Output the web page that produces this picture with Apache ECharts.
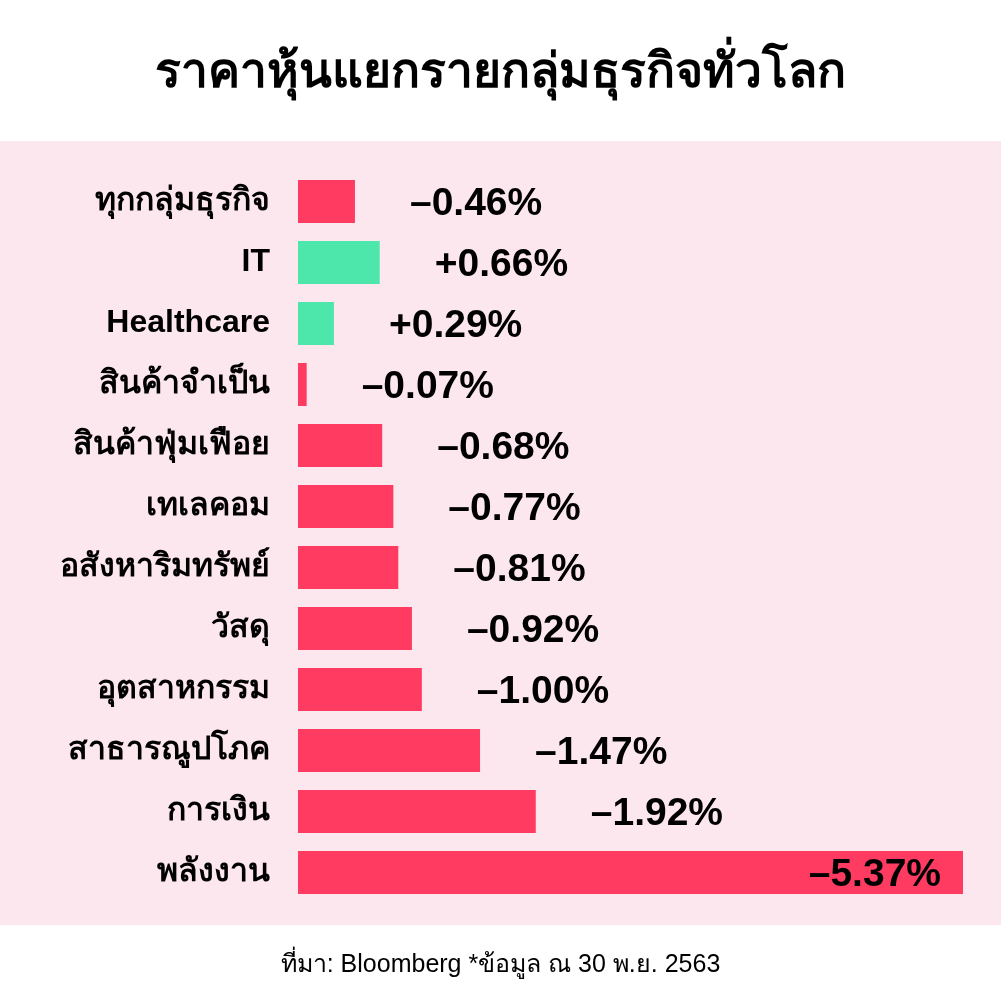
<!DOCTYPE html>
<html>
  <head>
    <meta charset="utf-8">
    <script src="https://cdn.jsdelivr.net/npm/echarts@6/dist/echarts.min.js"></script>
    <style>
      html, body { margin: 0; padding: 0; background: #fff; }
      #chart { width: 1001px; height: 1001px; }
    </style>
  </head>
  <body>
    <div id="chart"></div>
    <script>
      var categories = ['ทุกกลุ่มธุรกิจ', 'IT', 'Healthcare', 'สินค้าจำเป็น', 'สินค้าฟุ่มเฟือย', 'เทเลคอม',
        'อสังหาริมทรัพย์', 'วัสดุ', 'อุตสาหกรรม', 'สาธารณูปโภค', 'การเงิน', 'พลังงาน'];
      var changes = [-0.46, 0.66, 0.29, -0.07, -0.68, -0.77, -0.81, -0.92, -1.00, -1.47, -1.92, -5.37];
      var titleText = 'ราคาหุ้นแยกรายกลุ่มธุรกิจทั่วโลก';
      var sourceText = 'ที่มา: Bloomberg *ข้อมูล ณ 30 พ.ย. 2563';

      var RED = '#ff3b62';
      var GREEN = '#4de6ab';
      var FONT = '"Liberation Sans", "Noto Sans", sans-serif';

      var maxAbs = Math.max.apply(null, changes.map(Math.abs));

      function fmt(v) {
        return (v > 0 ? '+' : '–') + Math.abs(v).toFixed(2) + '%';
      }

      var barData = changes.map(function (v) {
        var item = {
          value: Math.abs(v),
          itemStyle: { color: v >= 0 ? GREEN : RED }
        };
        // the longest bar carries its label inside
        if (Math.abs(v) === maxAbs) {
          item.label = { position: 'insideRight', distance: 22 };
        }
        return item;
      });

      var chart = echarts.init(document.getElementById('chart'), null, { renderer: 'canvas' });
      chart.setOption({
        animation: false,
        backgroundColor: '#ffffff',
        graphic: [
          {
            type: 'rect',
            z: -10,
            silent: true,
            shape: { x: 0, y: 141, width: 1001, height: 784 },
            style: { fill: '#fde7ee' }
          },
          {
            type: 'text',
            left: 'center',
            top: 50,
            style: {
              text: titleText,
              font: 'bold 48px ' + FONT,
              fill: '#000'
            }
          },
          {
            type: 'text',
            left: 'center',
            top: 953,
            style: {
              text: sourceText,
              font: '25px ' + FONT,
              fill: '#000'
            }
          }
        ],
        grid: { left: 298, right: 38, top: 171, bottom: 98, containLabel: false },
        xAxis: {
          type: 'value',
          min: 0,
          max: maxAbs,
          show: false
        },
        yAxis: {
          type: 'category',
          inverse: true,
          data: categories,
          axisLine: { show: false },
          axisTick: { show: false },
          axisLabel: {
            margin: 28,
            color: '#000',
            fontSize: 32,
            fontWeight: 'bold',
            fontFamily: FONT
          }
        },
        series: [{
          type: 'bar',
          data: barData,
          barWidth: 43,
          label: {
            show: true,
            position: 'right',
            distance: 55,
            offset: [0, 3],
            color: '#000',
            fontSize: 39,
            fontWeight: 'bold',
            fontFamily: FONT,
            formatter: function (p) { return fmt(changes[p.dataIndex]); }
          }
        }]
      });
    </script>
  </body>
</html>
